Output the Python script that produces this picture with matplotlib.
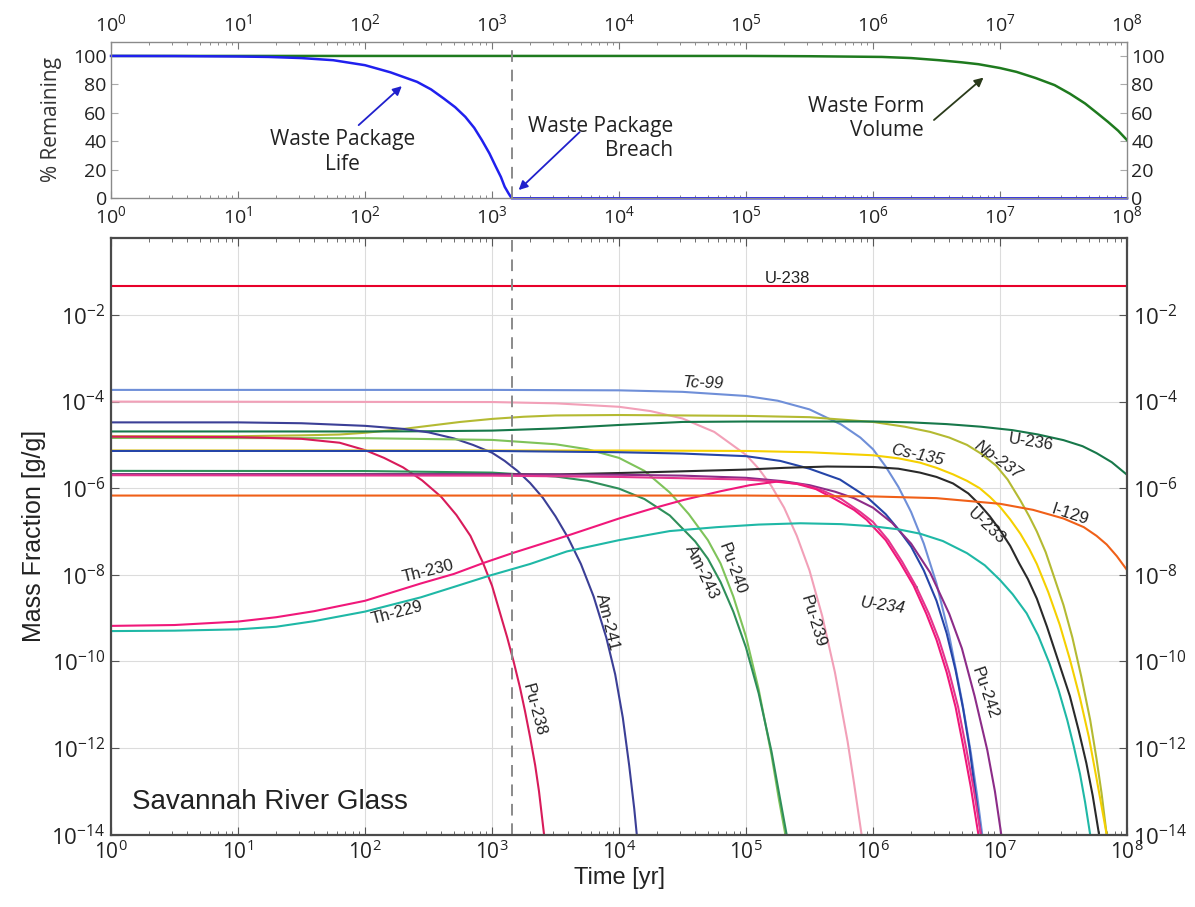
import numpy as np
import matplotlib
matplotlib.use("Agg")
import matplotlib.pyplot as plt
from matplotlib.ticker import FixedLocator, FixedFormatter, NullLocator

plt.rcParams["font.family"] = ["Open Sans", "DejaVu Sans"]
plt.rcParams["mathtext.fontset"] = "custom"
plt.rcParams["mathtext.rm"] = "Open Sans"
plt.rcParams["mathtext.it"] = "Open Sans:italic"
plt.rcParams["mathtext.bf"] = "Open Sans:bold"

# ---- top panel: % remaining (x given as log10 of years) ----
PKG_LOGT = [0, 0.5, 1.0, 1.24, 1.5, 1.75, 2.0, 2.2, 2.41, 2.52, 2.62, 2.71, 2.79, 2.86,
            2.92, 2.98, 3.03, 3.07, 3.10, 3.13, 3.155, 8.0]
PKG_PCT = [100, 99.9, 99.6, 99.3, 98.5, 97.0, 93.5, 88.5, 81.8, 76.5, 70.1, 64.0, 57.2,
           49.5, 40.9, 31.5, 22.2, 15.0, 8.1, 3.5, 0.0, 0.0]
FORM_LOGT = [0, 5.0, 5.5, 6.07, 6.3, 6.52, 6.7, 6.83, 7.0, 7.13, 7.28, 7.43, 7.55, 7.67,
             7.77, 7.85, 7.93, 8.0]
FORM_PCT = [100, 100, 99.8, 99.3, 98.5, 97.0, 95.5, 94.2, 91.5, 88.8, 84.5, 79.5, 73.5,
            66.6, 59.5, 53.7, 47.5, 40.9]
BREACH_YR = 1445

# ---- bottom panel: log10 of years vs log10 of mass fraction [g/g] ----
U238_T = [0, 8]
U238_M = [-1.33, -1.33]
TC99_T = [0, 3, 4, 4.5, 5, 5.25, 5.5, 5.75, 5.9, 6.0, 6.1, 6.2, 6.3, 6.4, 6.5, 6.6, 6.7,
          6.77, 6.82, 6.86]
TC99_M = [-3.73, -3.73, -3.74, -3.775, -3.87, -3.98, -4.18, -4.53, -4.83, -5.1, -5.5,
          -5.97, -6.55, -7.28, -8.2, -9.4, -10.9, -12.1, -13.1, -14.0]
PU239_T = [0, 3, 3.5, 4, 4.25, 4.5, 4.75, 5.0, 5.1, 5.2, 5.3, 5.4, 5.5, 5.6, 5.7, 5.8,
           5.85, 5.91]
PU239_M = [-4.0, -4.01, -4.04, -4.12, -4.22, -4.39, -4.7, -5.23, -5.55, -5.95, -6.45,
           -7.1, -7.9, -8.95, -10.25, -11.85, -12.8, -14.0]
NP237_T = [0, 1, 1.5, 1.8, 2.0, 2.25, 2.5, 2.75, 3.0, 3.25, 3.5, 4.0, 5.0, 5.5, 6.0,
           6.25, 6.45, 6.6, 6.74, 6.85, 6.97, 7.06, 7.16, 7.23, 7.29, 7.36, 7.42, 7.5,
           7.57, 7.64, 7.71, 7.76, 7.8, 7.84]
NP237_M = [-4.80, -4.80, -4.78, -4.76, -4.72, -4.65, -4.56, -4.47, -4.40, -4.35, -4.32,
           -4.31, -4.33, -4.36, -4.47, -4.58, -4.70, -4.83, -5.0, -5.2, -5.48, -5.8,
           -6.28, -6.65, -7.0, -7.48, -8.0, -8.7, -9.45, -10.35, -11.35, -12.25, -13.05,
           -14.0]
U236_T = [0, 2, 2.5, 3, 3.5, 4, 4.5, 5, 6, 6.3, 6.58, 6.85, 7.1, 7.3, 7.5, 7.65, 7.76,
          7.88, 8.0]
U236_M = [-4.69, -4.69, -4.685, -4.67, -4.62, -4.54, -4.47, -4.46, -4.46, -4.48, -4.52,
          -4.58, -4.66, -4.76, -4.89, -5.03, -5.19, -5.4, -5.69]
AM241_T = [0, 1, 1.5, 2.0, 2.3, 2.5, 2.7, 2.85, 3.0, 3.1, 3.2, 3.3, 3.4, 3.5, 3.6, 3.7,
           3.8, 3.9, 3.97, 4.03, 4.08, 4.12, 4.14]
AM241_M = [-4.48, -4.48, -4.50, -4.56, -4.63, -4.71, -4.85, -5.0, -5.18, -5.37, -5.6,
           -5.88, -6.22, -6.65, -7.15, -7.75, -8.5, -9.45, -10.3, -11.3, -12.4, -13.4,
           -14.0]
PU240_T = [0, 2, 3, 3.5, 3.75, 4.0, 4.2, 4.4, 4.55, 4.7, 4.8, 4.9, 5.0, 5.1, 5.2, 5.26,
           5.31]
PU240_M = [-4.84, -4.845, -4.885, -4.985, -5.1, -5.3, -5.6, -6.1, -6.6, -7.2, -7.74,
           -8.5, -9.43, -10.65, -12.15, -13.2, -14.0]
PU238_T = [0, 1, 1.5, 1.8, 2.0, 2.15, 2.3, 2.45, 2.6, 2.72, 2.83, 2.93, 3.0, 3.06, 3.12,
           3.17, 3.22, 3.26, 3.30, 3.34, 3.37, 3.41]
PU238_M = [-4.81, -4.82, -4.86, -4.95, -5.12, -5.3, -5.52, -5.82, -6.2, -6.62, -7.1,
           -7.73, -8.25, -8.85, -9.45, -10.0, -10.6, -11.15, -11.75, -12.4, -13.0, -14.0]
CS135_T = [0, 4, 5, 5.5, 6.0, 6.2, 6.37, 6.5, 6.63, 6.74, 6.84, 6.92, 7.0, 7.08, 7.16,
           7.23, 7.29, 7.38, 7.47, 7.55, 7.63, 7.7, 7.76, 7.8, 7.84]
CS135_M = [-5.13, -5.13, -5.14, -5.17, -5.24, -5.31, -5.41, -5.53, -5.68, -5.83, -6.0,
           -6.2, -6.43, -6.72, -7.05, -7.4, -7.75, -8.4, -9.15, -9.95, -10.85, -11.75,
           -12.7, -13.35, -14.0]
BLUE_T = [0, 3, 4, 4.5, 5.0, 5.27, 5.5, 5.74, 5.95, 6.1, 6.2, 6.3, 6.4, 6.5, 6.58, 6.65,
          6.71, 6.76, 6.8, 6.85]
BLUE_M = [-5.14, -5.14, -5.17, -5.2, -5.26, -5.37, -5.55, -5.8, -6.2, -6.6, -6.95,
          -7.35, -7.9, -8.6, -9.35, -10.2, -11.1, -12.0, -12.9, -14.0]
AM243_T = [0, 2, 3, 3.5, 3.75, 4.0, 4.2, 4.4, 4.6, 4.7, 4.8, 4.9, 5.0, 5.1, 5.2, 5.27,
           5.32]
AM243_M = [-5.6, -5.604, -5.64, -5.73, -5.83, -6.01, -6.25, -6.63, -7.23, -7.63, -8.17,
           -8.85, -9.68, -10.74, -12.07, -13.2, -14.0]
U233_T = [0, 3.54, 4.0, 4.5, 5.0, 5.3, 5.64, 6.0, 6.2, 6.37, 6.5, 6.63, 6.75, 6.84, 6.92,
          7.0, 7.08, 7.15, 7.22, 7.29, 7.37, 7.46, 7.55, 7.62, 7.68, 7.73, 7.78]
U233_M = [-5.68, -5.68, -5.65, -5.61, -5.57, -5.53, -5.50, -5.51, -5.55, -5.64, -5.74,
          -5.89, -6.12, -6.38, -6.65, -6.97, -7.33, -7.73, -8.1, -8.55, -9.2, -10.0,
          -10.8, -11.6, -12.35, -13.1, -14.0]
PU242_T = [0, 3, 4, 4.5, 5.0, 5.3, 5.5, 5.7, 5.85, 6.0, 6.15, 6.3, 6.45, 6.6, 6.7, 6.8,
           6.9, 6.96, 7.01]
PU242_M = [-5.68, -5.68, -5.69, -5.71, -5.76, -5.84, -5.93, -6.08, -6.23, -6.45, -6.8,
           -7.28, -7.95, -8.9, -9.7, -10.8, -12.05, -13.0, -14.0]
U234_T = [0, 3, 4, 5, 5.3, 5.45, 5.6, 5.75, 5.9, 6.0, 6.12, 6.23, 6.34, 6.44, 6.52, 6.6,
          6.67, 6.73, 6.79, 6.85]
U234_M = [-5.70, -5.71, -5.74, -5.80, -5.86, -5.92, -6.05, -6.25, -6.55, -6.78, -7.2,
          -7.7, -8.27, -8.9, -9.5, -10.25, -11.05, -11.95, -12.9, -14.0]
TH230_T = [0, 0.5, 1.0, 1.3, 1.6, 2.0, 2.44, 2.7, 2.93, 3.16, 3.59, 4.0, 4.25, 4.51, 4.8,
           5.03, 5.24, 5.4, 5.55, 5.7, 5.85, 5.95, 6.1, 6.21, 6.32, 6.42, 6.5, 6.58,
           6.65, 6.71, 6.77, 6.83]
TH230_M = [-9.18, -9.16, -9.08, -8.98, -8.84, -8.6, -8.2, -7.98, -7.73, -7.5, -7.1,
           -6.7, -6.48, -6.27, -6.07, -5.93, -5.85, -5.9, -6.02, -6.25, -6.5, -6.73,
           -7.2, -7.7, -8.25, -8.9, -9.5, -10.25, -11.05, -11.95, -12.9, -14.0]
I129_T = [0, 5, 6, 6.5, 7.0, 7.26, 7.5, 7.66, 7.76, 7.84, 7.92, 8.0]
I129_M = [-6.17, -6.17, -6.19, -6.23, -6.36, -6.5, -6.7, -6.9, -7.1, -7.3, -7.57, -7.89]
TH229_T = [0, 0.5, 1.0, 1.3, 1.6, 2.0, 2.44, 2.7, 2.98, 3.3, 3.59, 4.0, 4.4, 4.77, 5.1,
           5.43, 5.75, 6.0, 6.2, 6.37, 6.55, 6.74, 6.88, 7.0, 7.1, 7.21, 7.3, 7.39, 7.46,
           7.53, 7.58, 7.63, 7.67, 7.71]
TH229_M = [-9.30, -9.29, -9.26, -9.2, -9.07, -8.85, -8.52, -8.28, -8.02, -7.75, -7.46,
           -7.2, -6.99, -6.9, -6.84, -6.81, -6.83, -6.88, -6.95, -7.05, -7.22, -7.5,
           -7.78, -8.12, -8.45, -8.89, -9.4, -10.05, -10.65, -11.36, -11.95, -12.6,
           -13.25, -14.0]

curves = [
    (U238_T, U238_M, "#e8002a"),
    (TC99_T, TC99_M, "#6f8fd8"),
    (PU239_T, PU239_M, "#f2a0b8"),
    (NP237_T, NP237_M, "#b4ba32"),
    (U236_T, U236_M, "#17784a"),
    (AM241_T, AM241_M, "#3b3f96"),
    (PU240_T, PU240_M, "#7fc35a"),
    (PU238_T, PU238_M, "#d81b5a"),
    (CS135_T, CS135_M, "#f5d000"),
    (BLUE_T, BLUE_M, "#2545a8"),
    (AM243_T, AM243_M, "#2f8f5a"),
    (U233_T, U233_M, "#2a2a2a"),
    (PU242_T, PU242_M, "#8c2c88"),
    (U234_T, U234_M, "#e4358e"),
    (TH230_T, TH230_M, "#f0187a"),
    (I129_T, I129_M, "#f06018"),
    (TH229_T, TH229_M, "#1fb8a6"),
]

# label text, log10 t, log10 m, rotation, italic
labels = [
    ("U-238", 5.33, -1.15, 0, False),
    ("Tc-99", 4.66, -3.57, -2, True),
    ("Cs-135", 6.35, -5.23, -12, True),
    ("Np-237", 6.98, -5.35, -36, True),
    ("U-236", 7.24, -4.93, -9, False),
    ("I-129", 7.55, -6.60, -18, False),
    ("U-233", 6.89, -6.87, -43, False),
    ("Pu-242", 6.88, -10.73, -71, False),
    ("Pu-239", 5.53, -9.07, -73, False),
    ("Pu-240", 4.89, -7.87, -70, False),
    ("Am-243", 4.65, -7.94, -64, False),
    ("Am-241", 3.91, -9.09, -76, False),
    ("Pu-238", 3.33, -11.12, -75, False),
    ("Th-230", 2.50, -7.91, 14, False),
    ("Th-229", 2.25, -8.88, 15, False),
]

W, H = 1195, 907
fig = plt.figure(figsize=(W / 100, H / 100), dpi=100)
ax_top = fig.add_axes([111 / W, 1 - 198.3 / H, 1016 / W, (198.3 - 41.7) / H])
ax = fig.add_axes([111 / W, 1 - 834.6 / H, 1016 / W, (834.6 - 237.7) / H])

decades = [10.0 ** e for e in range(0, 9)]
dec_labels = ["$10^{%d}$" % e for e in range(0, 9)]
minors = [k * 10.0 ** e for e in range(0, 8) for k in range(2, 10)]

# ---------- top panel ----------
ax_top.plot(10 ** np.array(FORM_LOGT, dtype=float), FORM_PCT, color="#1e7a1e", lw=1.8)
ax_top.plot(10 ** np.array(PKG_LOGT, dtype=float), PKG_PCT, color="#2020ee", lw=1.8,
            clip_on=False)
ax_top.axvline(BREACH_YR, color="#8a8a8a", lw=1.4, dashes=(6, 4))
ax_top.set_xscale("log")
ax_top.set_xlim(1, 1e8)
ax_top.set_ylim(0, 110)
ax_top.xaxis.set_major_locator(FixedLocator(decades))
ax_top.xaxis.set_major_formatter(FixedFormatter(dec_labels))
ax_top.xaxis.set_minor_locator(FixedLocator(minors))
ax_top.set_yticks(range(0, 101, 20))
ax_top.tick_params(axis="x", which="both", top=True, bottom=True, labeltop=True,
                   labelbottom=True, direction="in", colors="#777777",
                   labelcolor="#222222", labelsize=14)
ax_top.tick_params(axis="x", which="major", length=5, pad=5)
ax_top.tick_params(axis="x", which="minor", length=2.5)
ax_top.tick_params(axis="y", left=True, right=True, labelleft=True, labelright=True,
                   direction="in", length=5, colors="#aaaaaa", labelcolor="#222222",
                   labelsize=14, pad=3)
for s in ax_top.spines.values():
    s.set_color("#8a8a8a")
    s.set_linewidth(1.0)
ax_top.set_ylabel("% Remaining", fontsize=15, color="#333333", labelpad=8)

arrow_kw = dict(arrowstyle="-|>", lw=1.3, mutation_scale=13, shrinkA=0, shrinkB=0)
ax_top.annotate("", xy=(10 ** 2.29, 78.8), xytext=(10 ** 1.95, 51.4),
                arrowprops=dict(color="#2020cc", **arrow_kw))
ax_top.text(10 ** 1.82, 32.5, "Waste Package\nLife", ha="center", va="center",
            fontsize=15, color="#222222", linespacing=1.2)
ax_top.annotate("", xy=(10 ** 3.21, 5.8), xytext=(10 ** 3.69, 46.5),
                arrowprops=dict(color="#2020cc", **arrow_kw))
ax_top.text(10 ** 4.43, 42.0, "Waste Package\nBreach", ha="right", va="center",
            fontsize=15, color="#222222", linespacing=1.2)
ax_top.annotate("", xy=(10 ** 6.87, 84.8), xytext=(10 ** 6.48, 55.0),
                arrowprops=dict(color="#2a3a1a", **arrow_kw))
ax_top.text(10 ** 6.40, 56.0, "Waste Form\nVolume", ha="right", va="center",
            fontsize=15, color="#222222", linespacing=1.2)

# ---------- bottom panel ----------
for lt, lm, col in curves:
    ax.plot(10 ** np.array(lt, dtype=float), 10 ** np.array(lm, dtype=float),
            color=col, lw=1.5)
ax.axvline(BREACH_YR, color="#8a8a8a", lw=1.4, dashes=(6, 4))

ax.set_xscale("log")
ax.set_yscale("log")
ax.set_xlim(1, 1e8)
ax.set_ylim(1e-14, 10 ** -0.215)
ax.xaxis.set_major_locator(FixedLocator(decades))
ax.xaxis.set_major_formatter(FixedFormatter(dec_labels))
ax.xaxis.set_minor_locator(FixedLocator(minors))
yexp = list(range(-14, -1, 2))
ax.yaxis.set_major_locator(FixedLocator([10.0 ** e for e in yexp]))
ax.yaxis.set_major_formatter(FixedFormatter(["$10^{%d}$" % e for e in yexp]))
ax.yaxis.set_minor_locator(NullLocator())
ax.grid(True, which="major", color="#dcdcdc", lw=0.8)
ax.set_axisbelow(True)
ax.tick_params(axis="x", which="both", top=True, bottom=True, labeltop=False,
               labelbottom=True, direction="in", colors="#555555",
               labelcolor="#222222", labelsize=15, pad=4)
ax.tick_params(axis="x", which="major", length=6)
ax.tick_params(axis="x", which="minor", length=3)
ax.tick_params(axis="y", left=True, right=True, labelleft=True, labelright=True,
               direction="in", length=6, colors="#555555", labelcolor="#222222",
               labelsize=16, pad=4)
for s in ax.spines.values():
    s.set_color("#4a4a4a")
    s.set_linewidth(1.6)

ax.set_xlabel("Time [yr]", fontsize=17, family="Liberation Sans", color="#222222",
              labelpad=2)
ax.set_ylabel("Mass Fraction [g/g]", fontsize=18, family="Liberation Sans",
              color="#222222", labelpad=4)

for name, lt, lm, rot, ital in labels:
    ax.text(10 ** lt, 10 ** lm, name, rotation=rot, ha="center", va="center",
            rotation_mode="anchor", fontsize=12, family="Liberation Sans",
            style="italic" if ital else "normal", color="#222222")

ax.annotate("U-234", xy=(10 ** 6.35, 10 ** -8.28), xytext=(10 ** 6.08, 10 ** -8.72),
            ha="center", va="center", rotation=-8, rotation_mode="anchor",
            fontsize=12, family="Liberation Sans", style="italic", color="#222222",
            arrowprops=dict(arrowstyle="-", color="#666666", lw=0.8,
                            shrinkA=8, shrinkB=0))

ax.text(0.021, 0.055, "Savannah River Glass", transform=ax.transAxes, ha="left",
        va="center", fontsize=20, family="Liberation Sans", color="#222222")

fig.savefig("out.png", dpi=100)
